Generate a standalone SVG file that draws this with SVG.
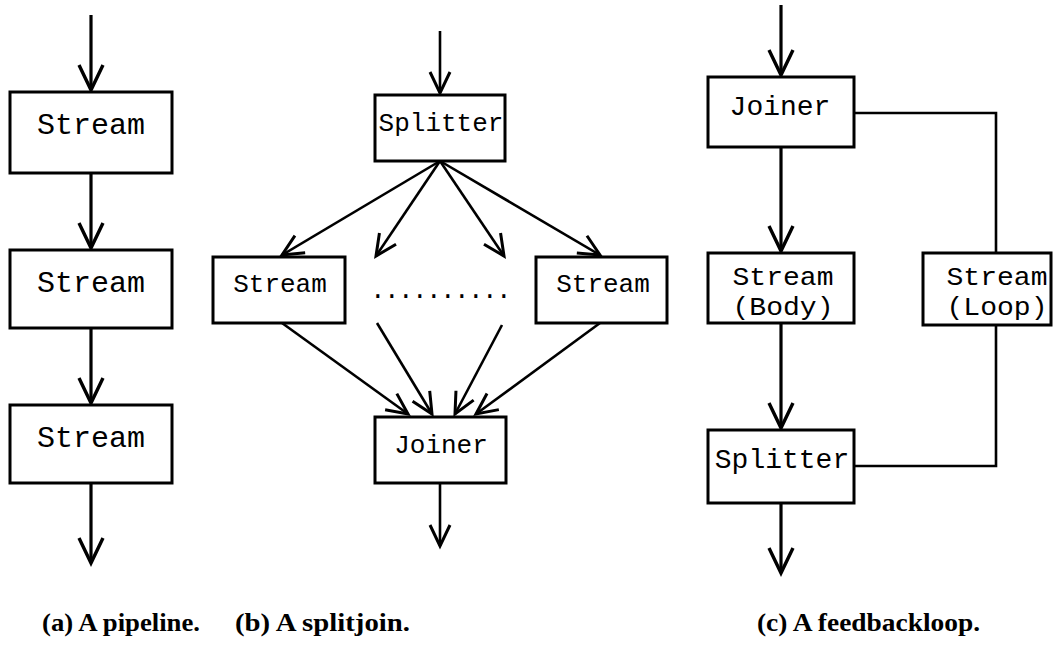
<svg xmlns="http://www.w3.org/2000/svg" width="1057" height="653" viewBox="0 0 1057 653">
  <style>
    .box { fill: #fff; stroke: #000; stroke-width: 3; }
    .edge { fill: none; stroke: #000; stroke-width: 3.2; }
    .thin { fill: none; stroke: #000; stroke-width: 2.6; }
    .mono { font-family: "Liberation Mono", "Courier New", monospace; fill: #000; text-anchor: middle; }
    .two { font-size: 26px; }
    .cap { font-family: "Liberation Serif", "Times New Roman", serif; font-weight: bold; font-size: 26px; fill: #000; }
  </style>
  <defs>
    <marker id="v" viewBox="-30 -15 34 30" refX="0" refY="0" markerWidth="34" markerHeight="30" orient="auto" markerUnits="userSpaceOnUse">
      <path d="M-25,-12 L0,0 L-25,12" fill="none" stroke="#000" stroke-width="3.4"/>
    </marker>
    <marker id="vs" viewBox="-26 -13 30 26" refX="0" refY="0" markerWidth="30" markerHeight="26" orient="auto" markerUnits="userSpaceOnUse">
      <path d="M-21,-10 L0,0 L-21,10" fill="none" stroke="#000" stroke-width="3"/>
    </marker>
  </defs>

  <!-- connectors -->
  <g id="connectors">
    <!-- pipeline -->
    <line class="edge" x1="91" y1="15" x2="91" y2="90" marker-end="url(#v)"/>
    <line class="edge" x1="91" y1="173" x2="91" y2="248" marker-end="url(#v)"/>
    <line class="edge" x1="91" y1="328" x2="91" y2="403" marker-end="url(#v)"/>
    <line class="edge" x1="91" y1="483" x2="91" y2="563" marker-end="url(#v)"/>
    <!-- splitjoin -->
    <line class="thin" x1="440" y1="31" x2="440" y2="93" marker-end="url(#vs)"/>
    <line class="thin" x1="440" y1="161" x2="282" y2="255" marker-end="url(#vs)"/>
    <line class="thin" x1="440" y1="161" x2="376" y2="256" marker-end="url(#vs)"/>
    <line class="thin" x1="440" y1="161" x2="504" y2="256" marker-end="url(#vs)"/>
    <line class="thin" x1="440" y1="161" x2="600" y2="255" marker-end="url(#vs)"/>
    <line class="thin" x1="282" y1="323" x2="408" y2="414" marker-end="url(#vs)"/>
    <line class="thin" x1="377" y1="323" x2="432" y2="414" marker-end="url(#vs)"/>
    <line class="thin" x1="502" y1="325" x2="455" y2="414" marker-end="url(#vs)"/>
    <line class="thin" x1="600" y1="323" x2="476" y2="414" marker-end="url(#vs)"/>
    <line class="thin" x1="440" y1="483" x2="440" y2="546" marker-end="url(#vs)"/>
    <!-- feedbackloop -->
    <line class="edge" x1="781" y1="5" x2="781" y2="75" marker-end="url(#v)"/>
    <line class="edge" x1="781" y1="147" x2="781" y2="251" marker-end="url(#v)"/>
    <line class="edge" x1="781" y1="323" x2="781" y2="428" marker-end="url(#v)"/>
    <line class="edge" x1="781" y1="503" x2="781" y2="573" marker-end="url(#v)"/>
    <polyline class="thin" points="854,113 996,113 996,253"/>
    <polyline class="thin" points="996,325 996,466 854,466"/>
  </g>

  <!-- (a) pipeline -->
  <g id="pipe-stream-1">
    <rect class="box" x="10" y="92" width="162" height="81"/>
    <text class="mono" x="91" y="134" font-size="30">Stream</text>
  </g>
  <g id="pipe-stream-2">
    <rect class="box" x="10" y="250" width="162" height="78"/>
    <text class="mono" x="91" y="292" font-size="30">Stream</text>
  </g>
  <g id="pipe-stream-3">
    <rect class="box" x="10" y="405" width="162" height="78"/>
    <text class="mono" x="91" y="447" font-size="30">Stream</text>
  </g>

  <!-- (b) splitjoin -->
  <g id="sj-splitter">
    <rect class="box" x="375" y="95" width="130" height="66"/>
    <text class="mono" x="441" y="131" font-size="26">Splitter</text>
  </g>
  <g id="sj-stream-left">
    <rect class="box" x="213" y="257" width="132" height="66"/>
    <text class="mono" x="280" y="292" font-size="26">Stream</text>
  </g>
  <g id="sj-ellipsis">
    <text class="mono" x="440" y="298" font-size="26" letter-spacing="-1.6">..........</text>
  </g>
  <g id="sj-stream-right">
    <rect class="box" x="536" y="257" width="131" height="66"/>
    <text class="mono" x="603" y="292" font-size="26">Stream</text>
  </g>
  <g id="sj-joiner">
    <rect class="box" x="375" y="417" width="131" height="66"/>
    <text class="mono" x="441" y="453" font-size="26">Joiner</text>
  </g>

  <!-- (c) feedbackloop -->
  <g id="fb-joiner">
    <rect class="box" x="708" y="77" width="146" height="70"/>
    <text class="mono" x="780" y="115" font-size="28">Joiner</text>
  </g>
  <g id="fb-body">
    <rect class="box" x="708" y="253" width="146" height="70"/>
    <text class="mono two" x="783" y="285" textLength="101" lengthAdjust="spacingAndGlyphs">Stream</text>
    <text class="mono two" x="783" y="315" textLength="101" lengthAdjust="spacingAndGlyphs">(Body)</text>
  </g>
  <g id="fb-loop">
    <rect class="box" x="923" y="253" width="128" height="72"/>
    <text class="mono two" x="997" y="285" textLength="101" lengthAdjust="spacingAndGlyphs">Stream</text>
    <text class="mono two" x="997" y="315" textLength="101" lengthAdjust="spacingAndGlyphs">(Loop)</text>
  </g>
  <g id="fb-splitter">
    <rect class="box" x="708" y="430" width="146" height="73"/>
    <text class="mono" x="782" y="468" font-size="28">Splitter</text>
  </g>

  <!-- captions -->
  <g id="captions">
    <text class="cap" x="42" y="631" textLength="158" lengthAdjust="spacingAndGlyphs">(a) A pipeline.</text>
    <text class="cap" x="235" y="631" textLength="175" lengthAdjust="spacingAndGlyphs">(b) A splitjoin.</text>
    <text class="cap" x="757" y="631" textLength="223" lengthAdjust="spacingAndGlyphs">(c) A feedbackloop.</text>
  </g>
</svg>
